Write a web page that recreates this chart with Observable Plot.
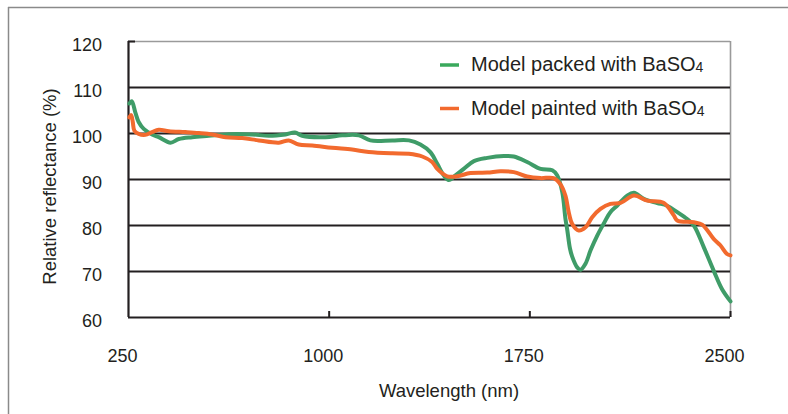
<!DOCTYPE html>
<html>
<head>
<meta charset="utf-8">
<script src="https://cdn.jsdelivr.net/npm/d3@7"></script>
<script src="https://cdn.jsdelivr.net/npm/@observablehq/plot@0.6"></script>
<style>
  html, body { margin: 0; padding: 0; background: #fff; }
  #chart { width: 788px; height: 414px; }
  svg { font-family: "Liberation Sans", Arial, Helvetica, sans-serif; }
</style>
</head>
<body>
<div id="chart"></div>
<script>
// ---- data ----
const packedWl = [253, 262, 276, 288, 307, 338, 363, 407, 438, 488, 550, 625, 712, 774, 837, 872, 899, 986, 1049, 1111, 1154, 1236, 1298, 1341, 1379, 1404, 1428, 1447, 1472, 1503, 1541, 1591, 1653, 1690, 1740, 1790, 1834, 1852, 1871, 1883, 1890, 1900, 1908, 1927, 1939, 1958, 1977, 2002, 2026, 2051, 2076, 2114, 2139, 2176, 2226, 2263, 2301, 2338, 2363, 2400, 2437, 2468, 2500];
const packedR  = [106.5, 107.0, 104.5, 102.5, 101.0, 99.8, 99.2, 98.0, 98.8, 99.2, 99.5, 99.85, 99.8, 99.5, 99.8, 100.2, 99.5, 99.2, 99.6, 99.6, 98.5, 98.5, 98.5, 97.6, 95.9, 93.4, 90.9, 89.9, 90.9, 92.3, 94.0, 94.7, 95.1, 95.0, 93.8, 92.3, 92.0, 90.9, 87.3, 81.5, 79.0, 75.0, 73.3, 70.9, 70.4, 71.7, 74.6, 77.8, 80.4, 82.9, 84.3, 86.5, 87.1, 85.8, 84.9, 84.3, 82.9, 81.4, 80.0, 75.3, 70.2, 66.2, 63.5];

const paintedWl = [253, 260, 266, 272, 288, 313, 338, 363, 401, 463, 513, 563, 613, 675, 737, 812, 849, 886, 937, 1011, 1086, 1148, 1236, 1298, 1348, 1385, 1404, 1441, 1478, 1528, 1591, 1640, 1690, 1740, 1790, 1839, 1864, 1883, 1895, 1908, 1933, 1958, 1983, 2014, 2051, 2089, 2139, 2189, 2251, 2288, 2301, 2363, 2394, 2437, 2462, 2487, 2500];
const paintedR  = [103.5, 104.0, 102.5, 100.6, 99.9, 99.7, 100.3, 100.8, 100.5, 100.3, 100.1, 99.8, 99.2, 99.0, 98.5, 98.0, 98.5, 97.6, 97.4, 96.9, 96.5, 96.0, 95.7, 95.6, 95.0, 93.8, 92.3, 90.7, 90.7, 91.4, 91.5, 91.8, 91.6, 90.65, 90.3, 90.3, 89.0, 86.5, 83.0, 80.4, 78.9, 79.6, 81.8, 83.6, 84.7, 84.9, 86.5, 85.4, 84.9, 82.2, 81.1, 80.7, 80.2, 77.1, 75.7, 73.8, 73.5];

const seriesNames = ["Model packed with BaSO", "Model painted with BaSO"];
const seriesColors = ["#3f9c68", "#f26a2e"];
const legendSwatchColors = ["#3aa95c", "#f26a2e"];
const xTicks = [250, 1000, 1750, 2500];
const yTicks = [60, 70, 80, 90, 100, 110, 120];
const gridY = [70, 80, 90, 100, 110];
const xLabel = "Wavelength (nm)";
const yLabel = "Relative reflectance (%)";

const packed = packedWl.map((w, i) => ({wl: w, r: packedR[i]}));
const painted = paintedWl.map((w, i) => ({wl: w, r: paintedR[i]}));

const ink = "#231f20";
const fmt = d => String(d);

const plot = Plot.plot({
  width: 788,
  height: 414,
  marginLeft: 128,
  marginRight: 58,
  marginTop: 41,
  marginBottom: 97,
  style: {fontFamily: '"Liberation Sans", Arial, Helvetica, sans-serif', color: ink, background: "#fff"},
  x: {domain: [250, 2500]},
  y: {domain: [60, 120]},
  marks: [
    Plot.ruleY([120], {stroke: "#9a9a9a", strokeWidth: 1.6}),
    Plot.ruleX([2500], {stroke: "#9a9a9a", strokeWidth: 1.6}),
    Plot.ruleY(gridY, {stroke: ink, strokeWidth: 2}),
    Plot.ruleY([60], {stroke: ink, strokeWidth: 2.2}),
    Plot.ruleX([250], {stroke: ink, strokeWidth: 2.2}),
    // inward small ticks
    Plot.axisY({ticks: [120], tickSize: 7, dx: 7, tickFormat: () => "", label: null, stroke: ink, strokeWidth: 2, strokeOpacity: 1}),
    Plot.axisX({ticks: [1000, 1750, 2500], tickSize: 6, dy: -6, tickFormat: () => "", label: null, stroke: ink, strokeWidth: 2, strokeOpacity: 1}),
    // tick labels
    Plot.axisY({ticks: yTicks, tickFormat: fmt, tickSize: 0, tickPadding: 26.5, dy: 4, fontSize: 18, label: null, fill: ink}),
    Plot.axisX({ticks: xTicks, tickFormat: fmt, tickSize: 0, tickPadding: 32, dx: -6, fontSize: 18, label: null, fill: ink}),
    // data lines
    Plot.line(packed, {x: "wl", y: "r", stroke: seriesColors[0], strokeWidth: 4, curve: "catmull-rom"}),
    Plot.line(painted, {x: "wl", y: "r", stroke: seriesColors[1], strokeWidth: 4, curve: "catmull-rom"})
  ]
});

document.getElementById("chart").appendChild(plot);

const svg = d3.select(plot);

// make sure tick labels use the intended size
svg.selectAll('g[aria-label$="tick label"]').style("font-size", "18px");

// outer frame lines
svg.append("line").attr("x1", 8.5).attr("x2", 8.5).attr("y1", 7).attr("y2", 414)
  .attr("stroke", "#8a8a8a").attr("stroke-width", 1.5);
svg.append("line").attr("x1", 8).attr("x2", 788).attr("y1", 7.5).attr("y2", 7.5)
  .attr("stroke", "#8a8a8a").attr("stroke-width", 1.5);

// axis titles
svg.append("text").attr("x", 449).attr("y", 397).attr("text-anchor", "middle")
  .attr("font-size", 18.5).attr("fill", ink).text(xLabel);
svg.append("text").attr("transform", "translate(56,186.5) rotate(-90)").attr("text-anchor", "middle")
  .attr("font-size", 18.5).attr("fill", ink).text(yLabel);

// legend
const legendY = [64, 107.5];
seriesNames.forEach((name, i) => {
  svg.append("line").attr("x1", 440).attr("x2", 459).attr("y1", legendY[i] + 1).attr("y2", legendY[i] + 1)
    .attr("stroke", legendSwatchColors[i]).attr("stroke-width", 3.5);
  const t = svg.append("text").attr("x", 471).attr("y", legendY[i] + 7)
    .attr("text-anchor", "start").attr("font-size", 20).attr("fill", ink);
  t.append("tspan").text(name);
  t.append("tspan").attr("font-size", 14).attr("dy", 1).text("4");
});
</script>
</body>
</html>
